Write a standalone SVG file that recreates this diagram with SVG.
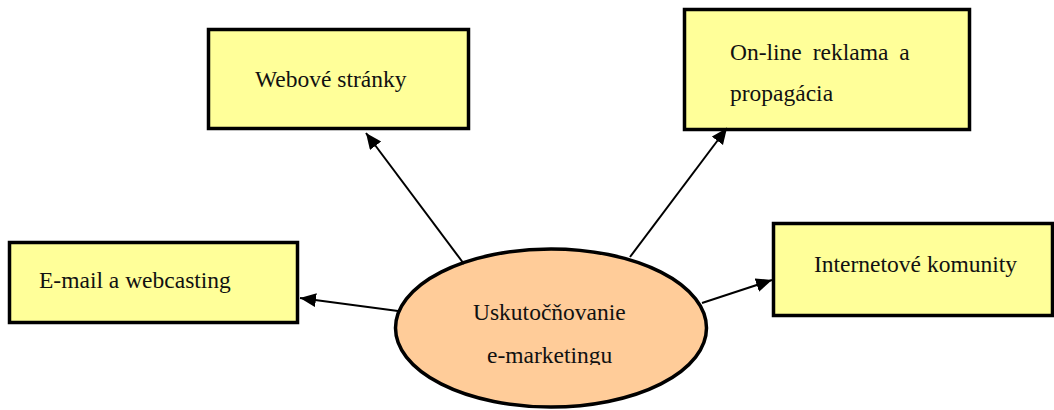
<svg xmlns="http://www.w3.org/2000/svg" width="1054" height="410" viewBox="0 0 1054 410">
  <style>
    .box { fill: #FFFF99; stroke: #000; stroke-width: 3.5; }
    .ell { fill: #FFCC99; stroke: #000; stroke-width: 3.5; }
    .t { font-family: "Liberation Serif", "Times New Roman", serif; font-size: 23.5px; fill: #111; }
    .c { stroke: #000; stroke-width: 2; fill: none; marker-end: url(#ah); }
  </style>
  <defs>
    <marker id="ah" markerUnits="userSpaceOnUse" markerWidth="17" markerHeight="15" refX="16" refY="7" orient="auto">
      <path d="M0,0 L16,7 L0,14 z" fill="#000"/>
    </marker>
    <clipPath id="clipText">
      <rect x="0" y="0" width="1054" height="365"/>
    </clipPath>
  </defs>
  <rect width="1054" height="410" fill="#fff"/>

  <g id="node-webove">
    <rect class="box" x="208.5" y="29.5" width="260" height="99"/>
    <text class="t" x="255" y="87">Webové stránky</text>
  </g>
  <g id="node-online">
    <rect class="box" x="684.5" y="9.5" width="285" height="120"/>
    <text class="t" x="730" y="60" word-spacing="5">On-line reklama a</text>
    <text class="t" x="730" y="101">propagácia</text>
  </g>
  <g id="node-email">
    <rect class="box" x="9.5" y="242.5" width="288" height="80"/>
    <text class="t" x="39" y="288">E-mail a webcasting</text>
  </g>
  <g id="node-komunity">
    <rect class="box" x="773.5" y="223.5" width="279" height="92"/>
    <text class="t" x="814" y="272">Internetové komunity</text>
  </g>
  <g id="node-center">
    <ellipse class="ell" cx="551" cy="328" rx="155.5" ry="79"/>
    <text class="t" x="473" y="320">Uskutočňovanie</text>
    <text class="t" x="487" y="363" clip-path="url(#clipText)">e-marketingu</text>
  </g>

  <g id="connectors">
    <line class="c" x1="464" y1="264" x2="366" y2="133"/>
    <line class="c" x1="630" y1="257" x2="727" y2="128"/>
    <line class="c" x1="398" y1="311" x2="300" y2="298"/>
    <line class="c" x1="702" y1="303" x2="772" y2="280"/>
  </g>
</svg>
